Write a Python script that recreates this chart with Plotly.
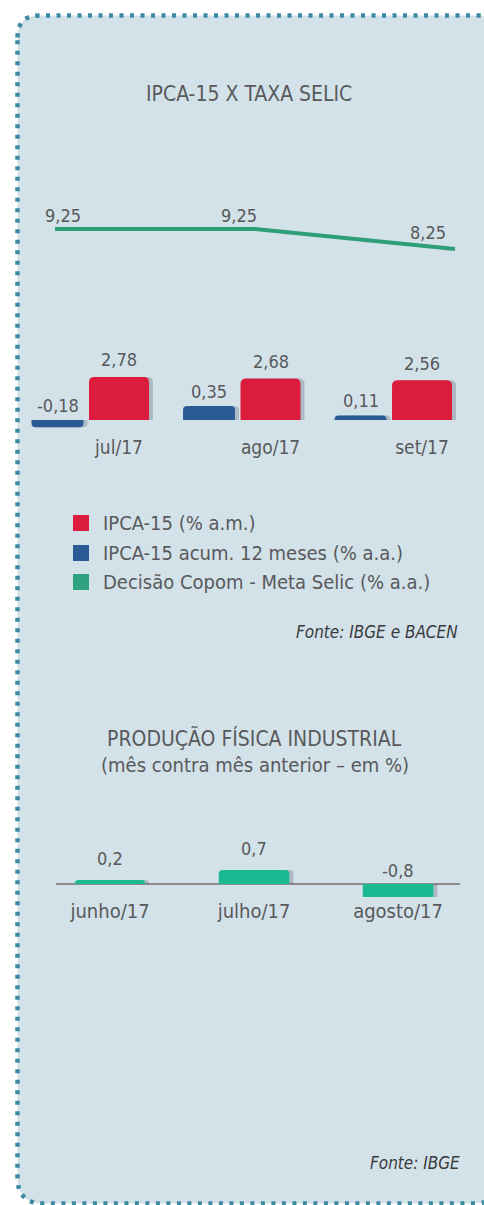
import plotly.graph_objects as go

# ---------------- data ----------------
meses = ["jul/17", "ago/17", "set/17"]
ipca15_mensal = [2.78, 2.68, 2.56]          # IPCA-15 (% a.m.)
ipca15_12m = [-0.18, 0.35, 0.11]            # IPCA-15 acum. 12 meses (% a.a.)
selic = [9.25, 9.25, 8.25]                  # Meta Selic (% a.a.)
nome_mensal = "IPCA-15 (% a.m.)"
nome_12m = "IPCA-15 acum. 12 meses (% a.a.)"
nome_selic = "Decisão Copom - Meta Selic (% a.a.)"

meses_prod = ["junho/17", "julho/17", "agosto/17"]
producao = [0.2, 0.7, -0.8]                 # Produção física industrial (%)

titulo1 = "IPCA-15 X TAXA SELIC"
fonte1 = "Fonte: IBGE e BACEN"
titulo2 = "PRODUÇÃO FÍSICA INDUSTRIAL"
subtitulo2 = "(mês contra mês anterior – em %)"
fonte2 = "Fonte: IBGE"

# ---------------- style ----------------
W, H = 484, 1205
FONT = "Liberation Sans Narrow, Arial Narrow, DejaVu Sans Condensed, Roboto, sans-serif"
TXT = "#58595b"
RED = "#dc1c3c"
BLUE = "#295c94"
GREEN_LINE = "#2e9e78"
GREEN_LEG = "#2fa37f"
GREEN_BAR = "#1ab994"
BG = "#d3e1e9"
DOT = "#3e89a4"
SHADOW = "rgba(40,50,60,0.22)"


def px(x):
    return x / W


def py(y):
    return 1 - y / H


def fmt(v, nd=2):
    return f"{v:.{nd}f}".replace(".", ",")


fig = go.Figure()

# IPCA-15 bars (with soft shadow copies behind)
RED_W, BLUE_W, BLUE_C = 0.396, 0.343, -0.406
SH = 4 / 151.5  # shadow shift, in category units
fig.add_trace(go.Bar(x=meses, y=ipca15_12m, marker_color=SHADOW, width=BLUE_W,
                     offset=BLUE_C - BLUE_W / 2 + SH, marker_cornerradius=4,
                     xaxis="x", yaxis="y2", marker_line_width=0, hoverinfo="skip"))
fig.add_trace(go.Bar(x=meses, y=ipca15_mensal, marker_color=SHADOW, width=RED_W,
                     offset=-RED_W / 2 + SH, marker_cornerradius=5,
                     xaxis="x", yaxis="y", marker_line_width=0, hoverinfo="skip"))
fig.add_trace(go.Bar(x=meses, y=ipca15_mensal, name=nome_mensal, marker_color=RED,
                     width=RED_W, offset=-RED_W / 2, marker_cornerradius=5,
                     xaxis="x", yaxis="y", marker_line_width=0))
fig.add_trace(go.Bar(x=meses, y=ipca15_12m, name=nome_12m, marker_color=BLUE,
                     width=BLUE_W, offset=BLUE_C - BLUE_W / 2, marker_cornerradius=4,
                     xaxis="x", yaxis="y2", marker_line_width=0))
# Selic line
fig.add_trace(go.Scatter(x=meses, y=selic, name=nome_selic, mode="lines",
                         line=dict(color=GREEN_LINE, width=4),
                         xaxis="x2", yaxis="y3", cliponaxis=False))
# Produção bars
SH3 = 4 / 144
fig.add_trace(go.Bar(x=meses_prod, y=producao, marker_color=SHADOW, width=0.49,
                     offset=-0.245 + SH3, marker_cornerradius=4, xaxis="x3",
                     yaxis="y4", marker_line_width=0, hoverinfo="skip"))
fig.add_trace(go.Bar(x=meses_prod, y=producao, marker_color=GREEN_BAR, width=0.49,
                     offset=-0.245, marker_cornerradius=4, xaxis="x3", yaxis="y4",
                     marker_line_width=0))

ann = []
# bar labels
for i, v in enumerate(ipca15_mensal):
    ann.append(dict(x=i, y=v, xref="x", yref="y", text=fmt(v), showarrow=False,
                    yshift=17, font=dict(size=18, color=TXT, family=FONT)))
for i, v in enumerate(ipca15_12m):
    ann.append(dict(x=i + BLUE_C, y=max(v, 0), xref="x", yref="y2", text=fmt(v),
                    showarrow=False, yshift=15,
                    font=dict(size=18, color=TXT, family=FONT)))
# selic labels
sel_xs = [8, -16, -27]
sel_ys = [14, 14, 17]
for i, v in enumerate(selic):
    ann.append(dict(x=i, y=v, xref="x2", yref="y3", text=fmt(v), showarrow=False,
                    xshift=sel_xs[i], yshift=sel_ys[i],
                    font=dict(size=18, color=TXT, family=FONT)))
# produção labels
for i, v in enumerate(producao):
    ann.append(dict(x=i, y=max(v, 0), xref="x3", yref="y4", text=fmt(v, 1),
                    showarrow=False, yshift=22 if v > 0 else 14,
                    font=dict(size=18, color=TXT, family=FONT)))

# titles and sources
ann += [
    dict(x=px(249), y=py(80), xref="paper", yref="paper", text=titulo1, showarrow=False,
         font=dict(size=21, color=TXT, family=FONT)),
    dict(x=px(460), y=py(632), xref="paper", yref="paper", text=fonte1, showarrow=False,
         xanchor="right", font=dict(size=17, color="#3a3a3c", family=FONT, style="italic")),
    dict(x=px(255), y=py(738), xref="paper", yref="paper", text=titulo2, showarrow=False,
         font=dict(size=21, color=TXT, family=FONT)),
    dict(x=px(255), y=py(765), xref="paper", yref="paper", text=subtitulo2, showarrow=False,
         font=dict(size=20, color=TXT, family=FONT)),
    dict(x=px(462), y=py(1175), xref="paper", yref="paper", text=fonte2, showarrow=False,
         xanchor="right", font=dict(size=17, color="#3a3a3c", family=FONT, style="italic")),
]

# manual legend
leg_names = [nome_mensal, nome_12m, nome_selic]
leg_colors = [RED, BLUE, GREEN_LEG]
leg_rows = [523, 553, 582]
shapes = []
for n, c, yy in zip(leg_names, leg_colors, leg_rows):
    shapes.append(dict(type="rect", xref="paper", yref="paper",
                       x0=px(73), x1=px(89), y0=py(yy - 8), y1=py(yy + 8),
                       fillcolor=c, line=dict(width=0)))
    ann.append(dict(x=px(101), y=py(yy), xref="paper", yref="paper", text=n,
                    showarrow=False, xanchor="left",
                    font=dict(size=20, color=TXT, family=FONT)))

# background panel with dotted border
L, T, R, B, r1, r2 = 17.5, 15.5, 500, 1203.5, 22, 26


def P(x, y):
    return f"{px(x):.5f},{py(y):.5f}"


path = (f"M {P(L, T + r1)} Q {P(L, T)} {P(L + r1, T)} L {P(R - r1, T)} "
        f"Q {P(R, T)} {P(R, T + r1)} L {P(R, B - r2)} Q {P(R, B)} {P(R - r2, B)} "
        f"L {P(L + r2, B)} Q {P(L, B)} {P(L, B - r2)} Z")
shapes.insert(0, dict(type="path", path=path, xref="paper", yref="paper",
                      fillcolor=BG, line=dict(color=DOT, width=4.5, dash="4px,6.5px"),
                      layer="below"))

hid = dict(visible=False, showgrid=False, zeroline=False, fixedrange=True)

fig.update_layout(
    width=W, height=H, margin=dict(l=0, r=0, t=0, b=0),
    paper_bgcolor="white", plot_bgcolor="rgba(0,0,0,0)",
    showlegend=False, barmode="overlay",
    annotations=ann, shapes=shapes,
    xaxis=dict(domain=[0, 1], range=[-0.7855, 2.409], anchor="y", showgrid=False,
               zeroline=False, showline=False, ticks="", fixedrange=True,
               tickfont=dict(size=19, color=TXT, family=FONT), ticklabelstandoff=2),
    yaxis=dict(domain=[py(432), py(340)], range=[-0.774, 5.16], **hid),
    yaxis2=dict(domain=[py(432), py(340)], range=[-0.3, 2.0], overlaying="y",
                anchor="x", **hid),
    xaxis2=dict(domain=[0, 1], range=[-0.275, 2.145], anchor="y3", **hid),
    yaxis3=dict(domain=[py(280), py(180)], range=[6.7, 11.7], anchor="x2", **hid),
    xaxis3=dict(domain=[px(56), px(460)], range=[-0.375, 2.43], anchor="y4",
                showgrid=False, zeroline=False, showline=False, ticks="", fixedrange=True,
                tickfont=dict(size=20, color=TXT, family=FONT)),
    yaxis4=dict(domain=[py(897), py(820)], range=[-0.65, 3.2], anchor="x3",
                showgrid=False, zeroline=True, zerolinecolor="#8c8c8c", zerolinewidth=2,
                showticklabels=False, fixedrange=True),
)

fig.write_html("out.html", config={"displayModeBar": False},
               post_script="document.body.style.margin='0';")
